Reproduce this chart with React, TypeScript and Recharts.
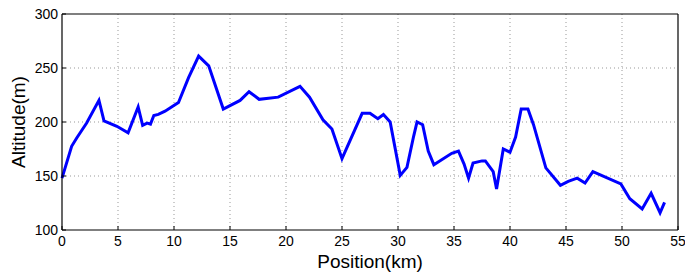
import { LineChart, Line, XAxis, YAxis, CartesianGrid, ReferenceLine } from "recharts"

// position along the route (km) and altitude (m)
const position = [
  0, 0.86, 1.3, 2.2, 3.3, 3.75, 4.9, 5.9, 6.8, 7.2, 7.6, 7.9, 8.2, 8.6, 9.2, 10.4, 11.3, 12.2, 13.1,
  14.4, 15.9, 16.7, 17.6, 19.3, 21.25, 22.1, 23.3, 24.1, 25.0, 26.8, 27.5, 28.2, 28.7, 29.3, 30.2,
  30.8, 31.4, 31.7, 32.2, 32.7, 33.2, 34.8, 35.4, 35.9, 36.3, 36.7, 37.5, 37.8, 38.5, 38.8, 39.4,
  40.0, 40.5, 41.0, 41.6, 42.1, 43.2, 44.5, 45.2, 46.0, 46.7, 47.4, 49.9, 50.7, 51.8, 52.6, 53.4,
  53.8,
]
const altitude = [
  148, 177.5, 185, 199, 220, 201, 196, 190, 214, 197, 199, 198, 206, 207, 210, 218, 241, 261, 252,
  212, 220, 228, 221, 223, 233, 223, 202, 193.5, 166, 208, 208, 203, 207, 200, 150.6,
  158, 187, 200, 197.5, 173, 160.5, 171, 173, 161, 148, 162, 164, 164, 154, 138, 175,
  172, 186, 212, 212, 197.5, 157.5, 141.4, 145, 148, 143.5, 154, 142.6, 129, 119.5, 134, 116,
  125.6,
]
const xTicks = [0, 5, 10, 15, 20, 25, 30, 35, 40, 45, 50, 55]
const yTicks = [100, 150, 200, 250, 300]

const data = position.map((x, i) => ({ x, alt: altitude[i] }))

const FONT = "'Liberation Sans', Arial, Helvetica, sans-serif"
const tickStyle = { fontSize: 14, fill: "#000", fontFamily: FONT }

export default function App() {
  return (
    <div style={{ position: "absolute", left: 0, top: 0 }}>
      <LineChart
        width={685}
        height={273}
        data={data}
        margin={{ top: 14, right: 7, left: 0, bottom: 0 }}
      >
        <CartesianGrid
          stroke="#999"
          strokeDasharray="1 3"
          horizontalValues={[150, 200, 250]}
          verticalValues={[5, 10, 15, 20, 25, 30, 35, 40, 45, 50]}
        />
        <XAxis
          dataKey="x"
          type="number"
          domain={[0, 55]}
          ticks={xTicks}
          interval={0}
          height={43}
          tickSize={-4}
          tickMargin={10}
          tick={tickStyle}
          axisLine={{ stroke: "#000", strokeWidth: 1.2 }}
          tickLine={{ stroke: "#000" }}
          label={{
            value: "Position(km)",
            position: "insideBottom",
            offset: 5,
            style: { fontSize: 19, fill: "#000", fontFamily: FONT },
          }}
        />
        <YAxis
          type="number"
          domain={[100, 300]}
          ticks={yTicks}
          interval={0}
          width={62}
          tickSize={-4}
          tickMargin={8}
          tick={tickStyle}
          axisLine={{ stroke: "#000", strokeWidth: 1.2 }}
          tickLine={{ stroke: "#000" }}
          label={{
            value: "Altitude(m)",
            angle: -90,
            position: "insideLeft",
            offset: 18,
            style: { fontSize: 19, fill: "#000", fontFamily: FONT, textAnchor: "middle" },
          }}
        />
        <ReferenceLine y={300} stroke="#000" strokeWidth={1.2} />
        <ReferenceLine x={55} stroke="#000" strokeWidth={1.2} />
        <Line
          type="linear"
          dataKey="alt"
          stroke="#0000ff"
          strokeWidth={3}
          dot={false}
          isAnimationActive={false}
        />
      </LineChart>
    </div>
  )
}
